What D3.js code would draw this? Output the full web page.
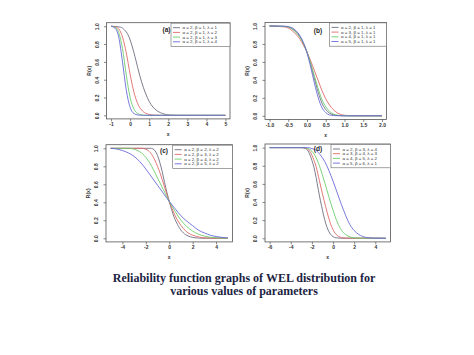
<!DOCTYPE html>
<html><head><meta charset="utf-8">
<script src="https://cdn.jsdelivr.net/npm/d3@7"></script>
<style>body{margin:0;background:#fff}svg{display:block}</style>
</head><body>
<script>
// ---------- DATA ----------
const seriesColors = ["#6e6e82", "#e06a6a", "#6ccc6c", "#6a6ad8"];

const aTicksX = [-1, 0, 1, 2, 3, 4, 5];
const bTicksX = [-1.0, -0.5, 0.0, 0.5, 1.0, 1.5, 2.0];
const cTicksX = [-4, -2, 0, 2, 4];
const dTicksX = [-6, -4, -2, 0, 2, 4];
const yTicks = [0.0, 0.2, 0.4, 0.6, 0.8, 1.0];

const aLabels = ["\u03b1 = 2, \u03b2 = 1, \u03bb = 1", "\u03b1 = 2, \u03b2 = 1, \u03bb = 2", "\u03b1 = 2, \u03b2 = 1, \u03bb = 3", "\u03b1 = 2, \u03b2 = 1, \u03bb = 4"];
const bLabels = ["\u03b1 = 2, \u03b2 = 1, \u03bb = 1", "\u03b1 = 3, \u03b2 = 1, \u03bb = 1", "\u03b1 = 4, \u03b2 = 1, \u03bb = 1", "\u03b1 = 5, \u03b2 = 1, \u03bb = 1"];
const cLabels = ["\u03b1 = 2, \u03b2 = 2, \u03bb = 2", "\u03b1 = 2, \u03b2 = 3, \u03bb = 2", "\u03b1 = 2, \u03b2 = 4, \u03bb = 2", "\u03b1 = 2, \u03b2 = 5, \u03bb = 2"];
const dLabels = ["\u03b1 = 2, \u03b2 = 3, \u03bb = 4", "\u03b1 = 3, \u03b2 = 4, \u03bb = 3", "\u03b1 = 4, \u03b2 = 5, \u03bb = 2", "\u03b1 = 5, \u03b2 = 6, \u03bb = 1"];

// panel (a)
const a1 = [[-1,1],[-0.5,0.99],[-0.3,0.96],[-0.1,0.9],[0.1,0.78],[0.3,0.62],[0.5,0.45],[0.7,0.31],[0.9,0.2],[1.1,0.12],[1.3,0.07],[1.5,0.04],[1.7,0.02],[1.9,0.008],[2.2,0.002],[2.5,0],[5,0]];
const a2 = [[-1,1],[-0.8,0.995],[-0.6,0.97],[-0.4,0.88],[-0.2,0.7],[0,0.46],[0.2,0.26],[0.4,0.13],[0.6,0.06],[0.8,0.025],[1.0,0.01],[1.3,0.002],[1.6,0],[5,0]];
const a3 = [[-1,1],[-0.8,0.99],[-0.6,0.93],[-0.4,0.75],[-0.2,0.45],[0,0.2],[0.2,0.07],[0.4,0.02],[0.6,0.005],[0.9,0],[5,0]];
const a4 = [[-1,1],[-0.8,0.98],[-0.6,0.88],[-0.4,0.6],[-0.2,0.28],[0,0.09],[0.2,0.02],[0.4,0.004],[0.7,0],[5,0]];
// panel (b)
const b1 = [[-1,1],[-0.6,0.995],[-0.4,0.97],[-0.3,0.94],[-0.2,0.89],[-0.1,0.81],[0,0.71],[0.1,0.57],[0.2,0.41],[0.3,0.26],[0.4,0.14],[0.5,0.07],[0.6,0.03],[0.7,0.012],[0.8,0.004],[1.0,0],[2,0]];
const b2 = [[-1,1],[-0.6,0.99],[-0.4,0.95],[-0.3,0.91],[-0.2,0.86],[-0.1,0.79],[0,0.71],[0.1,0.61],[0.2,0.5],[0.3,0.39],[0.4,0.28],[0.5,0.19],[0.6,0.12],[0.7,0.07],[0.8,0.035],[0.9,0.015],[1.0,0.006],[1.2,0.001],[1.4,0],[2,0]];
const b3 = [[-1,1],[-0.6,0.995],[-0.4,0.97],[-0.3,0.93],[-0.2,0.88],[-0.1,0.81],[0,0.71],[0.1,0.58],[0.2,0.44],[0.3,0.3],[0.4,0.18],[0.5,0.1],[0.6,0.05],[0.7,0.02],[0.8,0.007],[1.0,0.001],[1.2,0],[2,0]];
const b4 = [[-1,1],[-0.6,0.998],[-0.4,0.98],[-0.3,0.95],[-0.2,0.9],[-0.1,0.82],[0,0.7],[0.1,0.54],[0.2,0.36],[0.3,0.2],[0.4,0.09],[0.5,0.035],[0.6,0.01],[0.7,0.003],[0.9,0],[2,0]];
// panel (c)
const c1 = [[-5,1],[-1.6,1],[-1.4,0.995],[-1.2,0.97],[-1.0,0.92],[-0.8,0.84],[-0.6,0.74],[-0.4,0.62],[-0.2,0.51],[0,0.41],[0.2,0.32],[0.4,0.24],[0.6,0.18],[0.8,0.13],[1.0,0.09],[1.4,0.04],[1.8,0.017],[2.2,0.006],[2.8,0.001],[5,0]];
const c2 = [[-5,1],[-2.4,1],[-2.0,0.99],[-1.6,0.95],[-1.2,0.86],[-0.8,0.73],[-0.4,0.57],[0,0.41],[0.4,0.28],[0.8,0.18],[1.2,0.11],[1.6,0.06],[2.0,0.035],[2.6,0.013],[3.2,0.004],[4,0.001],[5,0]];
const c3 = [[-5,1],[-3.4,1],[-3,0.99],[-2.5,0.96],[-2,0.9],[-1.5,0.8],[-1,0.67],[-0.5,0.54],[0,0.41],[0.5,0.3],[1,0.2],[1.5,0.13],[2,0.08],[2.5,0.045],[3,0.025],[3.5,0.012],[4,0.006],[5,0.001]];
const c4 = [[-5,1],[-4.6,0.995],[-4,0.975],[-3.5,0.95],[-3,0.91],[-2.5,0.85],[-2,0.77],[-1.5,0.68],[-1,0.59],[-0.5,0.5],[0,0.41],[0.5,0.33],[1,0.25],[1.5,0.19],[2,0.14],[2.5,0.09],[3,0.06],[3.5,0.035],[4,0.02],[4.5,0.01],[5,0.005]];
// panel (d)
const d1 = [[-6,1],[-3,1],[-2.6,0.99],[-2.3,0.95],[-2.0,0.86],[-1.8,0.78],[-1.6,0.67],[-1.4,0.54],[-1.2,0.42],[-1.0,0.31],[-0.8,0.21],[-0.6,0.13],[-0.4,0.075],[-0.2,0.04],[0,0.018],[0.3,0.005],[0.7,0.001],[5,0]];
const d2 = [[-6,1],[-2.9,1],[-2.5,0.99],[-2.2,0.96],[-1.9,0.89],[-1.6,0.79],[-1.3,0.64],[-1.0,0.49],[-0.7,0.35],[-0.4,0.22],[-0.1,0.12],[0.2,0.055],[0.5,0.022],[0.8,0.008],[1.2,0.002],[5,0]];
const d3s = [[-6,1],[-2.8,1],[-2.4,0.99],[-2.0,0.96],[-1.6,0.89],[-1.2,0.77],[-0.8,0.62],[-0.4,0.46],[0,0.31],[0.4,0.18],[0.8,0.09],[1.2,0.04],[1.6,0.015],[2.0,0.005],[2.6,0.001],[5,0]];
const d4 = [[-6,1],[-2.4,1],[-2.0,0.99],[-1.6,0.97],[-1.2,0.92],[-0.8,0.85],[-0.4,0.75],[0,0.63],[0.4,0.5],[0.8,0.37],[1.2,0.25],[1.6,0.15],[2.0,0.085],[2.4,0.045],[2.8,0.02],[3.2,0.008],[3.8,0.002],[5,0]];

const captionLines = ["Reliability function graphs of WEL distribution for", "various values of parameters"];

// ---------- LAYOUT ----------
const W = 474, H = 355;
const panels = [
  {tag:"(a)", xDom:[-1,5], ticks:aTicksX, fmt:v=>String(v), series:[a1,a2,a3,a4], labels:aLabels,
   box:[106.5,22.7,230,118.9], legX:171, tagX:166.5, tagY:32},
  {tag:"(b)", xDom:[-1,2], ticks:bTicksX, fmt:v=>v.toFixed(1), series:[b1,b2,b3,b4], labels:bLabels,
   box:[265,22.4,386.5,119.4], legX:329.5, tagX:318, tagY:33},
  {tag:"(c)", xDom:[-5,5], ticks:cTicksX, fmt:v=>String(v), series:[c1,c2,c3,c4], labels:cLabels,
   box:[106,144.7,232.5,241.9], legX:172.7, tagX:164, tagY:153},
  {tag:"(d)", xDom:[-6,5], ticks:dTicksX, fmt:v=>String(v), series:[d1,d2,d3s,d4], labels:dLabels,
   box:[265,144,390.5,241.9], legX:331, tagX:318, tagY:151},
];

const svg = d3.select("body").append("svg").attr("width", W).attr("height", H)
  .style("font-family", "'Liberation Sans', Arial, sans-serif");
svg.append("rect").attr("width", W).attr("height", H).attr("fill", "#fff");

panels.forEach(p => {
  const [L, T, R, B] = p.box;
  const span = p.xDom[1] - p.xDom[0];
  const x = d3.scaleLinear().domain([p.xDom[0] - 0.04*span, p.xDom[1] + 0.04*span]).range([L, R]);
  const y = d3.scaleLinear().domain([-0.04, 1.04]).range([B, T]);
  const g = svg.append("g");

  const line = d3.line().x(d => x(d[0])).y(d => y(d[1])).curve(d3.curveMonotoneX);
  p.series.forEach((s, i) => {
    g.append("path").attr("d", line(s)).attr("fill", "none")
      .attr("stroke", seriesColors[i]).attr("stroke-width", 0.9);
  });

  g.append("rect").attr("x", L).attr("y", T).attr("width", R - L).attr("height", B - T)
    .attr("fill", "none").attr("stroke", "#555").attr("stroke-width", 0.8);

  const xa = g.append("g").attr("transform", `translate(0,${B})`)
    .call(d3.axisBottom(x).tickValues(p.ticks).tickSize(2.5).tickPadding(1.5)
      .tickFormat(v => p.fmt(v).replace("\u2212", "-")));
  xa.select(".domain").remove();
  xa.selectAll("line").attr("stroke", "#555").attr("stroke-width", 0.7);
  xa.selectAll("text").attr("font-size", 5).attr("fill", "#333").attr("font-weight", "bold");

  const ya = g.append("g").attr("transform", `translate(${L},0)`)
    .call(d3.axisLeft(y).tickValues(yTicks).tickSize(2.5).tickFormat(v => v.toFixed(1)));
  ya.select(".domain").remove();
  ya.selectAll("line").attr("stroke", "#555").attr("stroke-width", 0.7);
  ya.selectAll("text").attr("font-size", 5).attr("fill", "#333").attr("font-weight", "bold")
    .attr("x", 0).attr("dy", 0).attr("text-anchor", "middle")
    .attr("transform", "translate(-8,0) rotate(-90)");

  g.append("text").attr("x", (L + R) / 2).attr("y", B + 17.5).attr("text-anchor", "middle")
    .attr("font-size", 5).attr("font-weight", "bold").attr("fill", "#333").text("x");
  g.append("text").attr("transform", `translate(${L - 16},${(T + B) / 2}) rotate(-90)`)
    .attr("text-anchor", "middle").attr("font-size", 5).attr("font-weight", "bold")
    .attr("fill", "#333").text("R(x)");

  g.append("text").attr("x", p.tagX).attr("y", p.tagY).attr("text-anchor", "middle")
    .attr("font-size", 6.5).attr("font-weight", "bold").attr("fill", "#222").text(p.tag);

  const lx = p.legX, ly = T + 0.5, lw = R - lx, rowH = 4.7;
  g.append("rect").attr("x", lx).attr("y", ly).attr("width", lw).attr("height", rowH * 4 + 4.5)
    .attr("fill", "#fff").attr("stroke", "#666").attr("stroke-width", 0.6);
  p.labels.forEach((lab, i) => {
    const cy = ly + 4.5 + i * rowH;
    g.append("line").attr("x1", lx + 2).attr("x2", lx + 9).attr("y1", cy).attr("y2", cy)
      .attr("stroke", seriesColors[i]).attr("stroke-width", 0.9);
    g.append("text").attr("x", lx + 11.5).attr("y", cy + 1.6).attr("font-size", 4.4)
      .attr("fill", "#333").text(lab);
  });
});

svg.selectAll("text.cap").data(captionLines).enter().append("text").attr("class", "cap")
  .attr("x", 244).attr("y", (d, i) => 281.5 + i * 13.5).attr("text-anchor", "middle")
  .attr("font-family", "'Liberation Serif', 'DejaVu Serif', serif").attr("font-size", 12)
  .attr("font-weight", "bold").attr("fill", "#1c2442").text(d => d);
</script>
</body></html>
